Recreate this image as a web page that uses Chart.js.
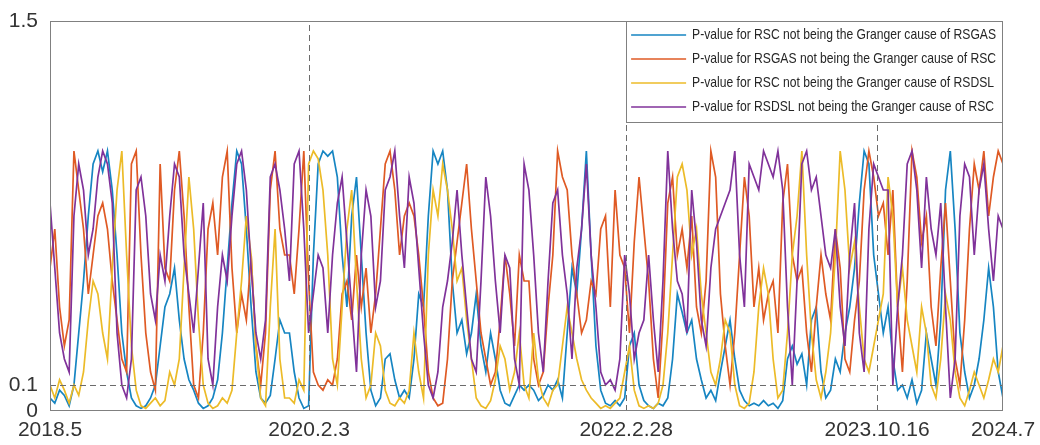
<!DOCTYPE html>
<html>
<head>
<meta charset="utf-8">
<script src="https://cdn.jsdelivr.net/npm/chart.js@4.4.1/dist/chart.umd.min.js"></script>
<style>
    html, body { margin: 0; padding: 0; background: #ffffff; }
    #wrap { width: 1040px; height: 445px; }
</style>
</head>
<body>
<div id="wrap"><canvas id="grangerChart" width="1040" height="445"></canvas></div>
<script>
// Rolling Granger causality p-values, one value per window step

// x tick positions (window index) and their date labels
const tickPositions = [0, 54.1, 120.3, 172.7, 199];
const tickLabels = ['2018.5', '2020.2.3', '2022.2.28', '2023.10.16', '2024.7'];
const markerPositions = [54.1, 120.3, 172.7];   // dashed event lines
const yTicks = [0, 0.1, 1.5];
const threshold = 0.1;

const seriesNames = [
    'P-value for RSC not being the Granger cause of RSGAS',
    'P-value for RSGAS not being the Granger cause of RSC',
    'P-value for RSC not being the Granger cause of RSDSL',
    'P-value for RSDSL not being the Granger cause of RSC'
];
const seriesColors = ['#1685c2', '#df5a24', '#ecbb28', '#80329a'];

const rscToGas = [
    0.05, 0.03, 0.08, 0.06, 0.02, 0.1, 0.3, 0.5, 0.75, 0.95, 1.0, 0.92, 1.0, 0.85, 0.6, 0.3, 0.15, 0.05, 0.02, 0.01, 0.02, 0.05, 0.1, 0.25, 0.4,
    0.45, 0.55, 0.35, 0.2, 0.12, 0.08, 0.03, 0.01, 0.02, 0.05, 0.12, 0.3, 0.55, 0.8, 1.0, 0.95, 0.7, 0.4, 0.15, 0.05, 0.03, 0.06, 0.2, 0.35, 0.3,
    0.3, 0.15, 0.05, 0.01, 0.02, 0.6, 0.95, 1.0, 0.98, 1.0, 0.9, 0.6, 0.4, 0.75, 0.9, 0.6, 0.3, 0.08, 0.02, 0.05, 0.2, 0.22, 0.12, 0.05, 0.08,
    0.05, 0.2, 0.45, 0.4, 0.75, 1.0, 0.95, 1.0, 0.85, 0.5, 0.3, 0.35, 0.22, 0.3, 0.45, 0.25, 0.15, 0.3, 0.2, 0.08, 0.03, 0.02, 0.06, 0.1, 0.08,
    0.1, 0.08, 0.04, 0.06, 0.1, 0.08, 0.12, 0.05, 0.3, 0.55, 0.45, 0.7, 1.0, 0.6, 0.25, 0.08, 0.03, 0.02, 0.04, 0.02, 0.05, 0.25, 0.3, 0.1, 0.04,
    0.02, 0.01, 0.03, 0.02, 0.05, 0.2, 0.45, 0.38, 0.3, 0.35, 0.2, 0.12, 0.05, 0.08, 0.04, 0.15, 0.25, 0.35, 0.2, 0.08, 0.04, 0.02, 0.03, 0.02, 0.04,
    0.02, 0.03, 0.01, 0.04, 0.2, 0.25, 0.18, 0.22, 0.1, 0.35, 0.4, 0.15, 0.05, 0.08, 0.2, 0.15, 0.3, 0.4, 0.55, 0.8, 1.0, 0.95, 0.6, 0.45, 0.3,
    0.4, 0.2, 0.08, 0.1, 0.05, 0.12, 0.03, 0.08, 0.3, 0.2, 0.1, 0.35, 0.85, 1.0, 0.7, 0.3, 0.15, 0.05, 0.1, 0.2, 0.35, 0.55, 0.4, 0.15, 0.05
];

const gasToRsc = [
    0.55, 0.7, 0.4, 0.25, 0.35, 1.0, 0.85, 0.7, 0.45, 0.6, 0.75, 0.8, 0.7, 0.5, 0.35, 0.2, 0.15, 0.95, 1.0, 0.6, 0.3, 0.15, 0.08, 0.95, 0.55,
    0.5, 0.85, 1.0, 0.75, 0.4, 0.1, 0.05, 0.3, 0.7, 0.8, 0.6, 0.9, 1.0, 0.55, 0.3, 0.45, 0.35, 0.6, 0.25, 0.1, 0.3, 0.85, 1.0, 0.7, 0.6,
    0.6, 0.45, 0.7, 1.0, 0.5, 0.15, 0.1, 0.08, 0.12, 0.1, 0.2, 0.45, 0.5, 0.35, 0.6, 0.4, 0.55, 0.3, 0.45, 0.7, 0.95, 1.0, 0.85, 0.6, 0.75,
    0.8, 0.75, 0.6, 0.4, 0.15, 0.05, 0.02, 0.03, 0.2, 0.5, 0.65, 0.8, 0.95, 0.7, 0.5, 0.3, 0.2, 0.1, 0.15, 0.35, 0.6, 0.45, 0.25, 0.6, 0.5,
    0.5, 0.2, 0.1, 0.15, 0.4, 0.6, 1.0, 0.9, 0.85, 0.6, 0.45, 0.3, 0.35, 0.5, 0.45, 0.7, 0.75, 0.4, 0.85, 0.6, 0.55, 0.3, 0.65, 0.9, 0.7,
    0.5, 0.2, 0.05, 0.35, 0.8, 0.9, 0.6, 0.7, 0.55, 0.75, 0.4, 0.3, 0.5, 1.0, 0.9, 0.45, 0.25, 0.1, 0.3, 0.6, 0.9, 0.75, 0.4, 0.55, 0.35,
    0.45, 0.5, 0.3, 0.8, 0.95, 0.6, 0.5, 0.55, 0.3, 0.15, 0.4, 0.6, 0.45, 0.35, 0.7, 0.55, 0.2, 0.15, 0.35, 0.5, 0.85, 1.0, 0.9, 0.75, 0.8,
    0.6, 0.85, 0.4, 0.15, 0.5, 1.0, 0.9, 0.65, 0.75, 0.4, 0.25, 0.55, 0.8, 0.5, 0.2, 0.1, 0.35, 0.7, 0.95, 0.85, 1.0, 0.75, 0.9, 1.0, 0.95
];

const rscToDsl = [
    0.1, 0.05, 0.12, 0.08, 0.03, 0.1, 0.06, 0.15, 0.35, 0.5, 0.45, 0.3, 0.2, 0.55, 0.85, 1.0, 0.6, 0.25, 0.08, 0.02, 0.01, 0.03, 0.05, 0.02, 0.04,
    0.15, 0.1, 0.2, 0.55, 0.9, 0.7, 0.35, 0.1, 0.03, 0.01, 0.02, 0.05, 0.03, 0.08, 0.3, 0.5, 0.75, 0.6, 0.25, 0.05, 0.02, 0.4, 0.7, 0.2, 0.05,
    0.05, 0.03, 0.12, 0.08, 0.95, 1.0, 0.97, 0.85, 0.6, 0.2, 0.1, 0.4, 0.7, 0.85, 0.5, 0.2, 0.05, 0.1, 0.3, 0.25, 0.08, 0.03, 0.02, 0.05, 0.03,
    0.08, 0.3, 0.15, 0.05, 0.6, 0.85, 0.75, 0.95, 0.85, 0.7, 0.5, 0.55, 0.35, 0.2, 0.05, 0.02, 0.01, 0.04, 0.12, 0.25, 0.2, 0.08, 0.15, 0.3, 0.1,
    0.05, 0.3, 0.12, 0.05, 0.02, 0.08, 0.1, 0.25, 0.4, 0.3, 0.2, 0.12, 0.08, 0.05, 0.03, 0.01, 0.02, 0.01, 0.03, 0.05, 0.15, 0.25, 0.08, 0.02, 0.01,
    0.02, 0.01, 0.03, 0.1, 0.3, 0.6, 0.9, 0.95, 0.85, 0.6, 0.7, 0.45, 0.3, 0.15, 0.1, 0.2, 0.35, 0.3, 0.1, 0.02, 0.01, 0.03, 0.15, 0.4, 0.55,
    0.45, 0.2, 0.05, 0.08, 0.3, 0.6, 0.75, 1.0, 0.6, 0.3, 0.12, 0.05, 0.15, 0.3, 0.6, 1.0, 0.85, 0.55, 0.65, 0.4, 0.2, 0.15, 0.25, 0.35, 0.45,
    0.9, 0.75, 0.4, 0.55, 0.35, 0.25, 0.15, 0.4, 0.3, 0.1, 0.05, 0.2, 0.45, 0.35, 0.15, 0.05, 0.02, 0.08, 0.15, 0.1, 0.05, 0.12, 0.2, 0.15, 0.25
];

const dslToRsc = [
    0.8, 0.55, 0.3, 0.2, 0.15, 0.75, 0.95, 0.85, 0.6, 0.7, 0.9, 1.0, 0.95, 0.8, 0.3, 0.1, 0.05, 0.2, 0.85, 0.9, 0.75, 0.45, 0.35, 0.6, 0.5,
    0.75, 0.95, 0.9, 0.6, 0.45, 0.3, 0.55, 0.8, 0.2, 0.1, 0.4, 0.6, 0.5, 0.75, 0.95, 1.0, 0.85, 0.55, 0.3, 0.2, 0.35, 0.9, 0.95, 0.85, 0.7,
    0.5, 0.95, 1.0, 0.7, 0.3, 0.45, 0.6, 0.55, 0.3, 0.6, 0.8, 0.9, 0.65, 0.4, 0.15, 0.6, 0.85, 0.75, 0.4, 0.5, 0.85, 0.9, 1.0, 0.75, 0.55,
    0.9, 0.8, 0.55, 0.3, 0.1, 0.05, 0.15, 0.4, 0.5, 0.65, 0.85, 0.6, 0.4, 0.2, 0.15, 0.5, 0.9, 0.75, 0.5, 0.3, 0.6, 0.55, 0.2, 0.1, 0.95,
    0.85, 0.6, 0.3, 0.15, 0.5, 0.8, 0.85, 0.6, 0.45, 0.2, 0.55, 0.7, 0.95, 0.6, 0.4, 0.15, 0.1, 0.12, 0.08, 0.2, 0.6, 0.45, 0.2, 0.3, 0.35,
    0.6, 0.35, 0.15, 0.5, 1.0, 0.7, 0.5, 0.45, 0.3, 0.85, 0.65, 0.35, 0.25, 0.55, 0.7, 0.75, 0.8, 0.85, 1.0, 0.6, 0.4, 0.95, 0.9, 0.85, 1.0,
    0.95, 0.9, 1.0, 0.85, 0.4, 0.1, 0.5, 0.95, 1.0, 0.85, 0.9, 0.75, 0.6, 0.55, 0.7, 0.4, 0.25, 0.6, 0.8, 0.3, 0.15, 0.7, 0.95, 0.9, 0.85,
    0.85, 0.1, 0.4, 0.6, 0.95, 1.0, 0.85, 0.55, 0.9, 0.7, 0.6, 0.8, 0.4, 0.05, 0.2, 0.75, 0.95, 0.9, 0.6, 0.85, 0.95, 0.7, 0.5, 0.75, 0.7
];

const allSeries = [rscToGas, gasToRsc, rscToDsl, dslToRsc];

// turn a value list into {x, y} points on the window index
function toPoints(values) {
    return values.map((v, i) => ({ x: i, y: v }));
}

// dashed event lines and the 0.1 significance line
const markerLines = {
    id: 'markerLines',
    afterDatasetsDraw(chart) {
        const { ctx, chartArea, scales } = chart;
        ctx.save();
        ctx.strokeStyle = '#6b6b6b';
        ctx.lineWidth = 1;
        ctx.setLineDash([6, 4]);
        markerPositions.forEach(pos => {
            const px = Math.round(scales.x.getPixelForValue(pos)) + 0.5;
            ctx.beginPath();
            ctx.moveTo(px, chartArea.bottom);
            ctx.lineTo(px, chartArea.top);
            ctx.stroke();
        });
        const py = Math.round(scales.y.getPixelForValue(threshold)) + 0.5;
        ctx.beginPath();
        ctx.moveTo(chartArea.left, py);
        ctx.lineTo(chartArea.right, py);
        ctx.stroke();
        ctx.restore();
    }
};

// axes box plus boxed legend in the top right corner
const boxAndLegend = {
    id: 'boxAndLegend',
    afterDraw(chart) {
        const { ctx, chartArea } = chart;
        ctx.save();
        ctx.strokeStyle = '#808080';
        ctx.lineWidth = 1;
        ctx.setLineDash([]);
        ctx.strokeRect(chartArea.left + 0.5, chartArea.top + 0.5,
            chartArea.right - chartArea.left - 1, chartArea.bottom - chartArea.top - 1);

        const boxLeft = chart.scales.x.getPixelForValue(markerPositions[1]);
        const boxTop = chartArea.top;
        const boxW = chartArea.right - boxLeft;
        const boxH = 101;
        ctx.fillStyle = '#ffffff';
        ctx.fillRect(boxLeft, boxTop, boxW, boxH);
        ctx.strokeRect(Math.round(boxLeft) + 0.5, boxTop + 0.5, Math.round(boxW) - 1, boxH);

        // the labels are set in a condensed face: squeeze them to fit the box
        ctx.font = '15px "Liberation Sans", Arial, sans-serif';
        ctx.textBaseline = 'middle';
        ctx.textAlign = 'left';
        const textLeft = boxLeft + 66;
        const widest = Math.max(...chart.data.datasets.map(ds => ctx.measureText(ds.label).width));
        const squeeze = (chartArea.right - 7 - textLeft) / widest;
        chart.data.datasets.forEach((ds, i) => {
            const rowY = boxTop + 14 + i * 24;
            ctx.strokeStyle = ds.borderColor;
            ctx.lineWidth = 1.5;
            ctx.beginPath();
            ctx.moveTo(boxLeft + 5, rowY);
            ctx.lineTo(boxLeft + 60, rowY);
            ctx.stroke();
            ctx.save();
            ctx.translate(textLeft, rowY);
            ctx.scale(squeeze, 1);
            ctx.fillStyle = '#262626';
            ctx.fillText(ds.label, 0, 0);
            ctx.restore();
        });
        ctx.restore();
    }
};

function initChart() {
    const ctx = document.getElementById('grangerChart').getContext('2d');
    Chart.defaults.font.family = '"Liberation Sans", Arial, sans-serif';

    new Chart(ctx, {
        type: 'line',
        data: {
            datasets: allSeries.map((values, i) => ({
                label: seriesNames[i],
                data: toPoints(values),
                borderColor: seriesColors[i],
                borderWidth: 1.7,
                pointRadius: 0,
                tension: 0,
                fill: false,
                order: 4 - i
            }))
        },
        options: {
            responsive: false,
            animation: false,
            layout: { padding: { top: 21, right: 37, left: 0, bottom: 0 } },
            plugins: {
                legend: { display: false },
                tooltip: { enabled: false }
            },
            scales: {
                x: {
                    type: 'linear',
                    min: 0,
                    max: allSeries[0].length - 1,
                    grid: { display: false, drawTicks: false },
                    border: { display: false },
                    afterBuildTicks: axis => {
                        axis.ticks = tickPositions.map(v => ({ value: v }));
                    },
                    afterFit: axis => {
                        axis.height = 34;
                        axis.paddingLeft = 0;
                        axis.paddingRight = 0;
                    },
                    ticks: {
                        autoSkip: false,
                        maxRotation: 0,
                        padding: 7,
                        color: '#333333',
                        font: { size: 21 },
                        callback: value => tickLabels[tickPositions.indexOf(value)]
                    }
                },
                y: {
                    min: 0,
                    max: 1.5,
                    grid: { display: false, drawTicks: false },
                    border: { display: false },
                    afterBuildTicks: axis => {
                        axis.ticks = yTicks.map(v => ({ value: v }));
                    },
                    afterFit: axis => {
                        axis.width = 50;
                        axis.paddingTop = 0;
                        axis.paddingBottom = 0;
                    },
                    ticks: {
                        padding: 12,
                        color: '#333333',
                        font: { size: 21 },
                        callback: value => String(value)
                    }
                }
            }
        },
        plugins: [markerLines, boxAndLegend]
    });
}

window.onload = initChart;
</script>
</body>
</html>
